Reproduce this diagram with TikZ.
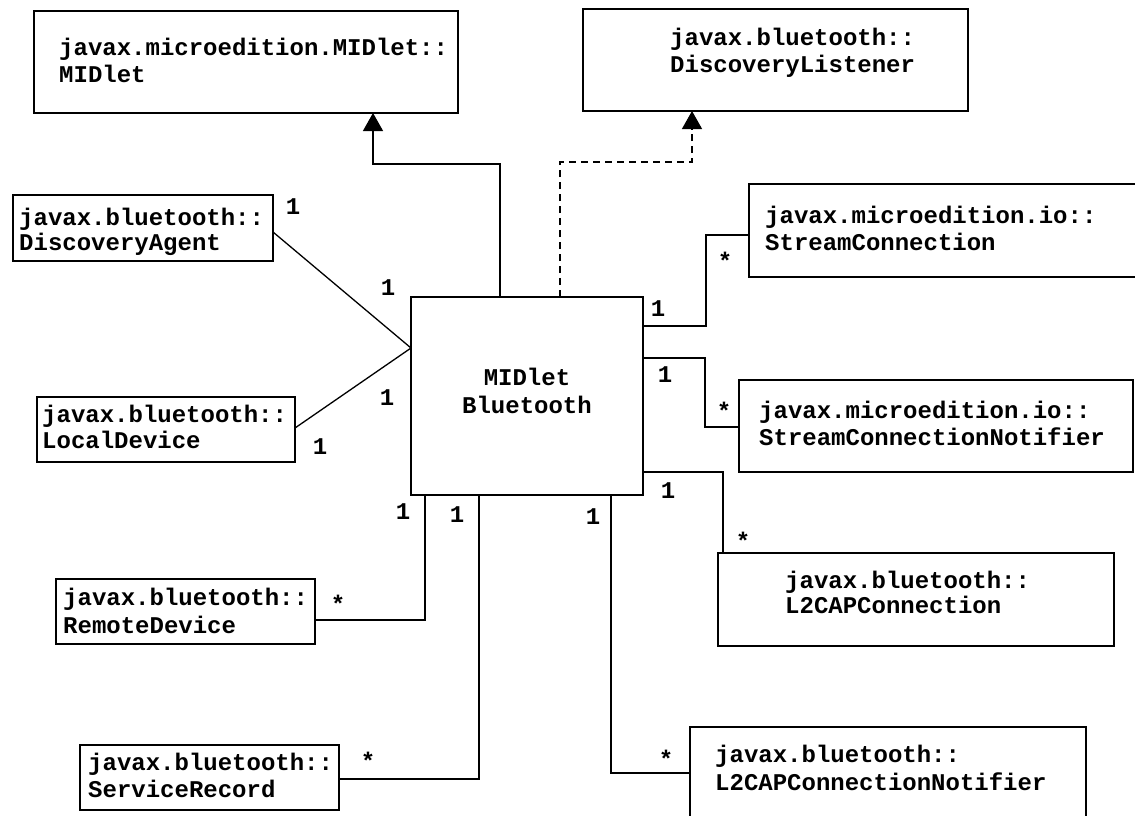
\documentclass[tikz,border=0pt]{standalone}
\usepackage{fontspec}
\newfontfamily\cour{Liberation Mono}
\usetikzlibrary{arrows.meta}
\begin{document}
\begin{tikzpicture}[x=1pt,y=-1pt,
  box/.style={draw, line width=1.3pt, rectangle, inner sep=0pt, outer sep=0pt, anchor=north west},
  txt/.style={font=\cour\bfseries\fontsize{24}{27}\selectfont, inner sep=0pt, anchor=base west},
  ctxt/.style={font=\cour\bfseries\fontsize{24}{27}\selectfont, inner sep=0pt, anchor=base},
  mult/.style={font=\cour\bfseries\fontsize{24}{27}\selectfont, inner sep=0pt, anchor=center},
  conn/.style={line width=1.3pt},
  gen/.style={conn, -{Triangle[width=20pt,length=18pt]}},
  real/.style={gen, dash pattern=on 7pt off 5pt}]
\fill[white] (0,0) rectangle (1135,815);
\useasboundingbox (0,0) rectangle (1135,815);

% boxes
\node[box, minimum width=424pt, minimum height=102pt] (midlet) at (34,11) {};
\node[box, minimum width=385pt, minimum height=102pt] (dlistener) at (583,9) {};
\node[box, minimum width=260pt, minimum height=66pt] (dagent) at (13,195) {};
\node[box, minimum width=258pt, minimum height=65pt] (ldevice) at (37,397) {};
\node[box, minimum width=232pt, minimum height=198pt] (bt) at (411,297) {};
\node[box, minimum width=396pt, minimum height=93pt] (sconn) at (749,184) {};
\node[box, minimum width=394pt, minimum height=92pt] (snotif) at (739,380) {};
\node[box, minimum width=396pt, minimum height=93pt] (l2c) at (718,553) {};
\node[box, minimum width=396pt, minimum height=103pt] (l2cn) at (690,727) {};
\node[box, minimum width=259pt, minimum height=65pt] (rdev) at (56,579) {};
\node[box, minimum width=259pt, minimum height=65pt] (srec) at (80,745) {};

% texts
\node[txt] (midlet1) at (59,55) {javax.microedition.MIDlet::};
\node[txt] (midlet2) at (59,82) {MIDlet};
\node[txt] (dlistener1) at (670,45) {javax.bluetooth::};
\node[txt] (dlistener2) at (670,72) {DiscoveryListener};
\node[txt] (dagent1) at (19,225) {javax.bluetooth::};
\node[txt] (dagent2) at (19,250) {DiscoveryAgent};
\node[txt] (ldevice1) at (42,422) {javax.bluetooth::};
\node[txt] (ldevice2) at (42,448) {LocalDevice};
\node[ctxt] (bt1) at (527,385) {MIDlet};
\node[ctxt] (bt2) at (527,413) {Bluetooth};
\node[txt] (sconn1) at (765,223) {javax.microedition.io::};
\node[txt] (sconn2) at (765,250) {StreamConnection};
\node[txt] (snotif1) at (759,418) {javax.microedition.io::};
\node[txt] (snotif2) at (759,445) {StreamConnectionNotifier};
\node[txt] (l2c1) at (785,588) {javax.bluetooth::};
\node[txt] (l2c2) at (785,613) {L2CAPConnection};
\node[txt] (l2cn1) at (715,762) {javax.bluetooth::};
\node[txt] (l2cn2) at (715,790) {L2CAPConnectionNotifier};
\node[txt] (rdev1) at (63,605) {javax.bluetooth::};
\node[txt] (rdev2) at (63,633) {RemoteDevice};
\node[txt] (srec1) at (88,770) {javax.bluetooth::};
\node[txt] (srec2) at (88,797) {ServiceRecord};

% connectors
\draw[gen] (500,0 |- bt.north) |- (373,164) -- (373,0 |- midlet.south);
\draw[real] (560,0 |- bt.north) |- (692,162) -- (692,0 |- dlistener.south);
\draw[conn] (dagent.east |- 0,232) -- (bt.west |- 0,348);
\draw[conn] (ldevice.east |- 0,428) -- (bt.west |- 0,348);
\draw[conn] (bt.east |- 0,326) -- (706,326) |- (sconn.west |- 0,235);
\draw[conn] (bt.east |- 0,358) -- (705,358) |- (snotif.west |- 0,427);
\draw[conn] (bt.east |- 0,472) -| (723,0 |- l2c.north);
\draw[conn] (611,0 |- bt.south) |- (l2cn.west |- 0,773);
\draw[conn] (425,0 |- bt.south) |- (rdev.east |- 0,620);
\draw[conn] (479,0 |- bt.south) |- (srec.east |- 0,779);

% multiplicities
\node[mult] (m1) at (293,207) {1};
\node[mult] (m2) at (388,288) {1};
\node[mult] (m3) at (387,398) {1};
\node[mult] (m4) at (320,447) {1};
\node[mult] (m5) at (658,309) {1};
\node[mult] (m6) at (665,375) {1};
\node[mult] (m7) at (668,491) {1};
\node[mult] (m8) at (593,517) {1};
\node[mult] (m9) at (403,512) {1};
\node[mult] (m10) at (457,515) {1};
\node[mult] (s1) at (725,261) {*};
\node[mult] (s2) at (724,411) {*};
\node[mult] (s3) at (743,541) {*};
\node[mult] (s4) at (666,759) {*};
\node[mult] (s5) at (338,604) {*};
\node[mult] (s6) at (368,761) {*};
\end{tikzpicture}
\end{document}
